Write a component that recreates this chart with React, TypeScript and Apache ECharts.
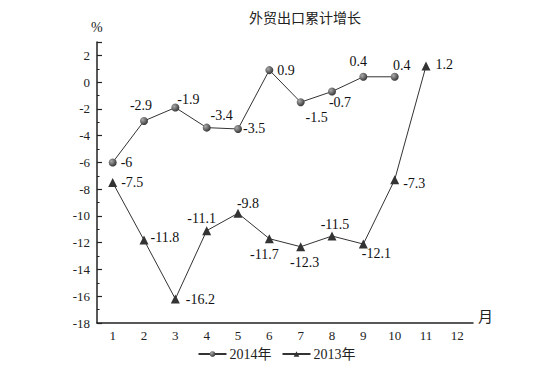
import React, { useEffect, useRef } from "react";
import * as echarts from "echarts";

const months = ["1", "2", "3", "4", "5", "6", "7", "8", "9", "10", "11", "12"];
const values2014 = [-6, -2.9, -1.9, -3.4, -3.5, 0.9, -1.5, -0.7, 0.4, 0.4];
const values2013 = [-7.5, -11.8, -16.2, -11.1, -9.8, -11.7, -12.3, -11.5, -12.1, -7.3, 1.2];
const yTicks = { min: -18, max: 3, interval: 2 };

// label placement (style only)
const pos2014: [string, number, number][] = [
  ["right", 0, 0], ["top", -3, 0], ["right", -6, -8], ["top", 15, 3], ["right", -3, 0],
  ["right", 0, 0], ["bottom", 16, 0], ["bottom", 8, -4], ["top", -5, 0], ["top", 7, 4],
];
const pos2013: [string, number, number][] = [
  ["right", 0, 0], ["right", -2, -3], ["right", 2, 1], ["top", -5, 3], ["top", 10, 6],
  ["bottom", -5, 0], ["bottom", 4, 0], ["top", 3, 4], ["bottom", 13, -6], ["right", 0, 4], ["right", 1, -2],
];

const FONT = "'Liberation Serif', 'Noto Sans CJK SC', serif";

export default function App() {
  const ref = useRef<HTMLDivElement>(null);
  useEffect(() => {
    const chart = echarts.init(ref.current!, null, { renderer: "svg" });
    const mkData = (vals: number[], pos: [string, number, number][]) =>
      vals.map((v, i) => ({
        value: v,
        label: { position: pos[i][0] as any, offset: [pos[i][1], pos[i][2]] },
      }));
    const sphere = {
      type: "radial",
      x: 0.35,
      y: 0.35,
      r: 0.75,
      colorStops: [
        { offset: 0, color: "#aaaaaa" },
        { offset: 1, color: "#2a2a2a" },
      ],
    };
    chart.setOption({
      animation: false,
      textStyle: { fontFamily: FONT },
      graphic: [
        { type: "text", left: 249, top: 11, style: { text: "外贸出口累计增长", font: `14px ${FONT}`, fill: "#222" } },
        { type: "text", left: 91, top: 20, style: { text: "%", font: `14px ${FONT}`, fill: "#222" } },
        { type: "text", left: 478, top: 309, style: { text: "月", font: `15px ${FONT}`, fill: "#222" } },
      ],
      legend: {
        top: 342,
        left: "center",
        itemGap: 10,
        itemWidth: 28,
        itemHeight: 7,
        textStyle: { fontFamily: FONT, fontSize: 14, color: "#222", padding: [0, 0, 0, -2] },
        data: ["2014年", "2013年"],
      },
      grid: { left: 97, right: 80, top: 42, bottom: 68 },
      xAxis: {
        type: "category",
        data: months,
        boundaryGap: true,
        axisLine: { onZero: false, lineStyle: { color: "#222", width: 1.5 } },
        axisTick: { inside: true, length: 5, lineStyle: { color: "#222", width: 1.2 } },
        axisLabel: { fontFamily: FONT, fontSize: 13, color: "#222", margin: 6 },
      },
      yAxis: {
        type: "value",
        min: yTicks.min,
        max: yTicks.max,
        interval: yTicks.interval,
        splitLine: { show: false },
        axisLine: { show: true, lineStyle: { color: "#222", width: 1.5 } },
        axisTick: { show: true, inside: true, length: 5, lineStyle: { color: "#222", width: 1.2 } },
        minorTick: { show: true, splitNumber: 2, length: 2.5, lineStyle: { color: "#222", width: 1 } },
        axisLabel: { fontFamily: FONT, fontSize: 13, color: "#222", margin: 7, showMaxLabel: false },
      },
      series: [
        {
          name: "2014年",
          type: "line",
          data: mkData(values2014, pos2014),
          symbol: "circle",
          symbolSize: 8,
          itemStyle: { color: sphere as any },
          lineStyle: { color: "#333", width: 1 },
          label: { show: true, fontFamily: FONT, fontSize: 14, color: "#111", distance: 4 },
        },
        {
          name: "2013年",
          type: "line",
          data: mkData(values2013, pos2013),
          symbol: "triangle",
          symbolSize: 9,
          itemStyle: { color: "#333" },
          lineStyle: { color: "#333", width: 1 },
          label: { show: true, fontFamily: FONT, fontSize: 14, color: "#111", distance: 4 },
        },
      ],
    });
    return () => chart.dispose();
  }, []);
  return <div ref={ref} style={{ width: 553, height: 391, position: "absolute", left: 0, top: 0 }} />;
}
